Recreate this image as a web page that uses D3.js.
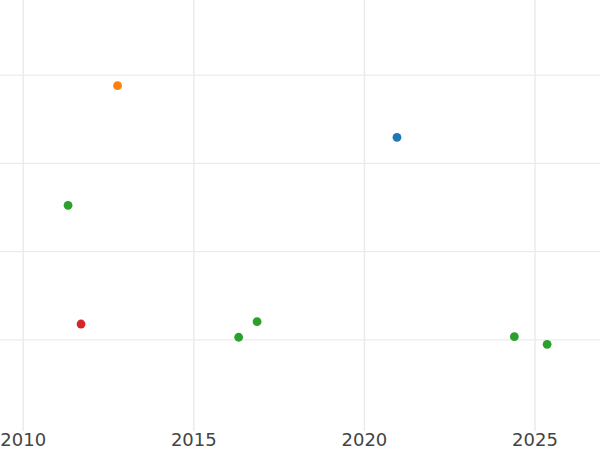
<!DOCTYPE html>
<html>
<head>
<meta charset="utf-8">
<script src="https://cdn.jsdelivr.net/npm/d3@7"></script>
<style>
  html, body { margin: 0; padding: 0; background: #fff; }
  svg { display: block; }
</style>
</head>
<body>
<svg id="chart" width="600" height="450"></svg>
<script>
// ---- data ----
const years  = [2012.78, 2020.97, 2011.33, 2011.71, 2016.33, 2016.87, 2024.41, 2025.37];
const values = [38.75, 32.9, 25.19, 11.73, 10.23, 12.0, 10.29, 9.43];
const groups = ["B", "A", "C", "D", "C", "C", "C", "C"];
const groupNames = ["A", "B", "C", "D"];
const groupColors = ["#1f77b4", "#ff7f0e", "#2ca02c", "#d62728"];
const xTickValues = [2010, 2015, 2020, 2025];
const xTickLabels = ["2010", "2015", "2020", "2025"];
const yTickValues = [10, 20, 30, 40];

// ---- layout ----
const W = 600, plotBottom = 431;
const svg = d3.select("#chart");

const x = d3.scaleLinear().domain([2009.335, 2026.92]).range([0, W]);
const y = d3.scaleLinear().domain([-0.4, 48.47]).range([plotBottom, 0]);
const color = d3.scaleOrdinal().domain(groupNames).range(groupColors);

// horizontal gridlines
svg.append("g")
  .attr("transform", "translate(0,0)")
  .call(d3.axisLeft(y).tickValues(yTickValues).tickSize(-W).tickFormat(""))
  .call(g => g.select(".domain").remove())
  .call(g => g.selectAll(".tick line").attr("stroke", "#ebebeb").attr("stroke-width", 1.2));

// vertical gridlines + labels
const xAxis = svg.append("g")
  .attr("transform", `translate(0,${plotBottom})`)
  .call(d3.axisBottom(x).tickValues(xTickValues)
        .tickFormat((d, i) => xTickLabels[i]).tickSize(-plotBottom).tickPadding(0))
  .call(g => g.select(".domain").remove());
xAxis.selectAll(".tick line").attr("stroke", "#ebebeb").attr("stroke-width", 1.5);
xAxis.selectAll(".tick text")
  .attr("fill", "#444")
  .attr("font-family", "DejaVu Sans, sans-serif")
  .attr("font-size", 18)
  .attr("dy", null)
  .attr("y", 14.7);

// points
const data = years.map((yr, i) => ({ year: yr, value: values[i], group: groups[i] }));
svg.append("g")
  .selectAll("circle")
  .data(data)
  .join("circle")
  .attr("cx", d => x(d.year))
  .attr("cy", d => y(d.value))
  .attr("r", 4.4)
  .attr("fill", d => color(d.group));
</script>
</body>
</html>
